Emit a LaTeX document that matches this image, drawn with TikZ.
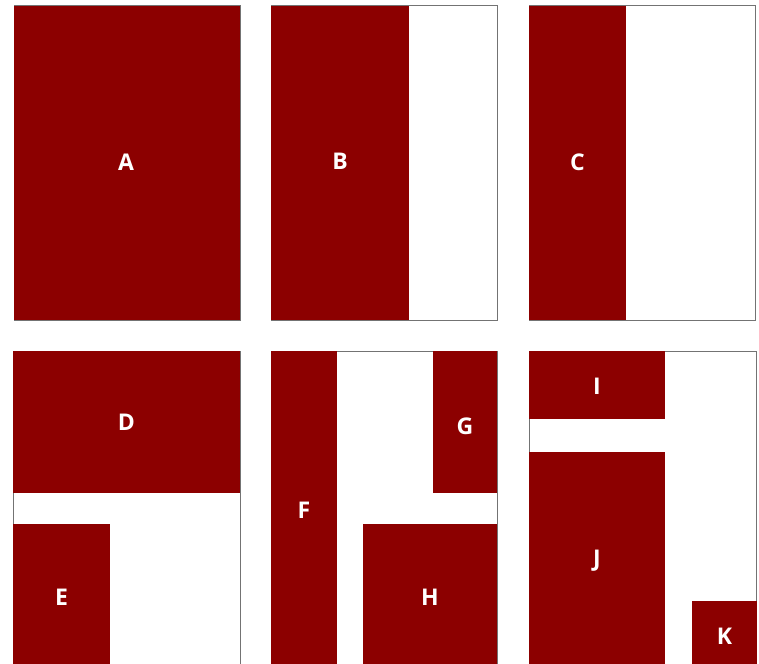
\documentclass[tikz,border=0pt]{standalone}
\usepackage{fontspec}
\setmainfont{Open Sans}
\begin{document}
\begin{tikzpicture}[x=1pt,y=-1pt,
  panel/.style={draw=black!55, line width=1pt},
  blk/.style={fill=red!55!black, inner sep=0pt, outer sep=0pt, anchor=north west},
  lab/.style={text=white, font=\bfseries\fontsize{23}{23}\selectfont, inner sep=0pt}]
\useasboundingbox (0,0) rectangle (759,663);
% panel frames
\draw[panel] (14,6) rectangle (240,320);
\draw[panel] (271,6) rectangle (497,320);
\draw[panel] (529,6) rectangle (755,320);
\draw[panel] (13,351) rectangle (240,664);
\draw[panel] (271,351) rectangle (497,664);
\draw[panel] (529,351) rectangle (756,664);
% blocks
\node[blk, minimum width=226pt, minimum height=314pt] (A) at (14,6) {};
\node[blk, minimum width=138pt, minimum height=314pt] (B) at (271,6) {};
\node[blk, minimum width=97pt, minimum height=314pt] (C) at (529,6) {};
\node[blk, minimum width=227pt, minimum height=142pt] (D) at (13,351) {};
\node[blk, minimum width=97pt, minimum height=140pt] (E) at (13,524) {};
\node[blk, minimum width=66pt, minimum height=313pt] (F) at (271,351) {};
\node[blk, minimum width=64pt, minimum height=142pt] (G) at (433,351) {};
\node[blk, minimum width=134pt, minimum height=140pt] (H) at (363,524) {};
\node[blk, minimum width=136pt, minimum height=68pt] (I) at (529,351) {};
\node[blk, minimum width=136pt, minimum height=212pt] (J) at (529,452) {};
\node[blk, minimum width=65pt, minimum height=63pt] (K) at (692,601) {};
% labels
\node[lab] (Al) at ([xshift=-1pt,yshift=1pt]A.center) {A};
\node[lab] (Bl) at ([yshift=1.5pt]B.center) {B};
\node[lab] (Cl) at ([yshift=1pt]C.center) {C};
\node[lab] (Dl) at (D.center) {D};
\node[lab] (El) at ([yshift=-3.5pt]E.center) {E};
\node[lab] (Fl) at ([yshift=-3pt]F.center) {F};
\node[lab] (Gl) at ([yshift=-4pt]G.center) {G};
\node[lab] (Hl) at ([yshift=-3.5pt]H.center) {H};
\node[lab] (Il) at ([yshift=-1pt]I.center) {I};
\node[lab] (Jl) at ([yshift=-3pt]J.center) {J};
\node[lab] (Kl) at ([yshift=-3.5pt]K.center) {K};
\end{tikzpicture}
\end{document}
